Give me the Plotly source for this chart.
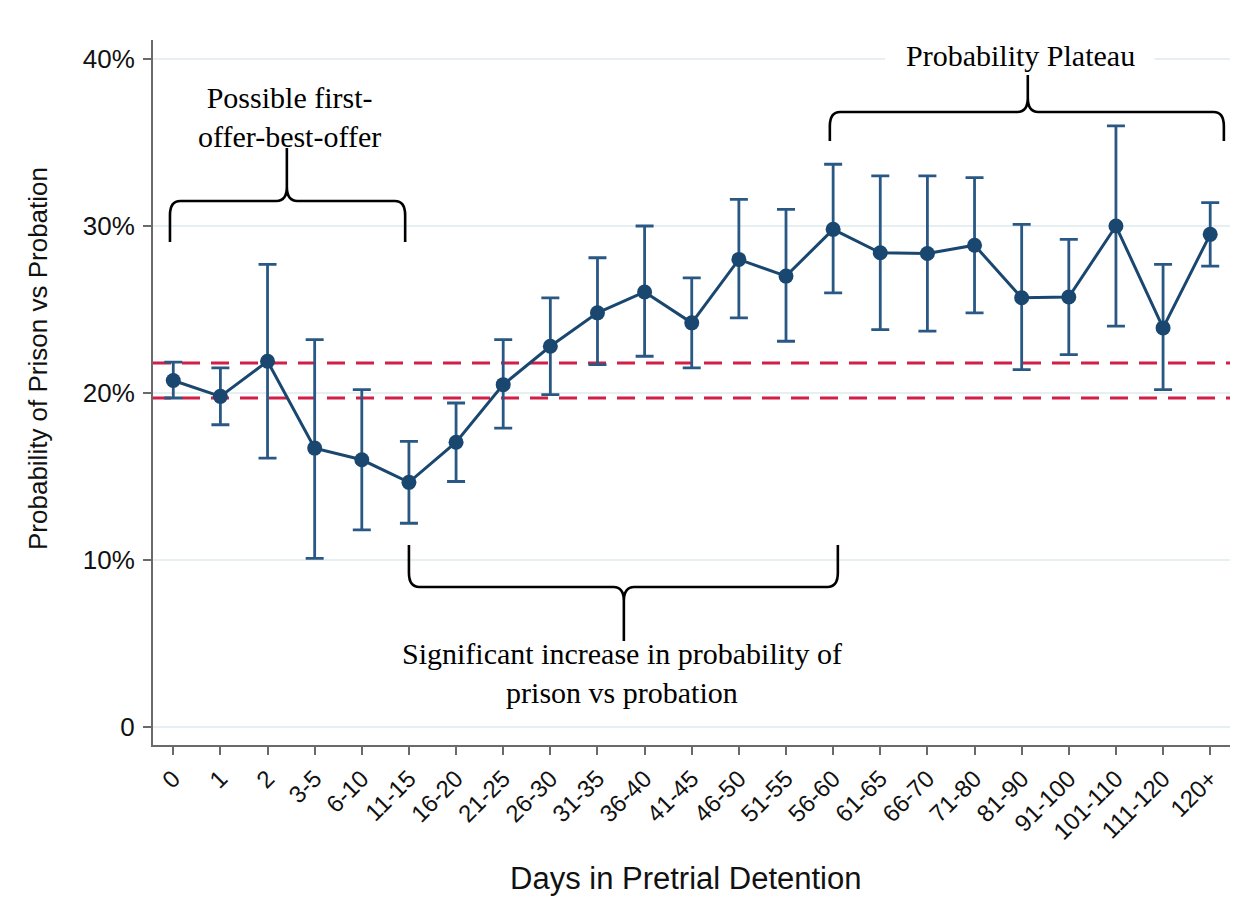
import plotly.graph_objects as go

# ---------------- data ----------------
categories = ["0", "1", "2", "3-5", "6-10", "11-15", "16-20", "21-25", "26-30",
              "31-35", "36-40", "41-45", "46-50", "51-55", "56-60", "61-65",
              "66-70", "71-80", "81-90", "91-100", "101-110", "111-120", "120+"]
prob = [0.2075, 0.198, 0.219, 0.167, 0.160, 0.1465, 0.1705, 0.205, 0.228,
        0.248, 0.2605, 0.242, 0.280, 0.270, 0.298, 0.284, 0.2835, 0.2885,
        0.257, 0.2575, 0.300, 0.239, 0.295]
ci_upper = [0.2185, 0.215, 0.277, 0.232, 0.202, 0.171, 0.194, 0.232, 0.257,
            0.281, 0.300, 0.269, 0.316, 0.310, 0.337, 0.330, 0.330, 0.329,
            0.301, 0.292, 0.360, 0.277, 0.314]
ci_lower = [0.197, 0.181, 0.161, 0.101, 0.118, 0.122, 0.147, 0.179, 0.199,
            0.217, 0.222, 0.215, 0.245, 0.231, 0.260, 0.238, 0.237, 0.248,
            0.214, 0.223, 0.240, 0.202, 0.276]
ref_lines = [0.218, 0.197]
y_tickvals = [0, 0.1, 0.2, 0.3, 0.4]
y_ticktext = ["0", "10%", "20%", "30%", "40%"]

# ---------------- styling ----------------
NAVY = "#1a476f"
CI_COL = "#2a5884"
RED = "#d11f48"
GRID = "#e6eff2"
AXIS = "#6a6a6a"
SANS = "Liberation Sans, Arial, sans-serif"
SERIF = "Liberation Serif, Times New Roman, serif"

x_idx = list(range(len(categories)))
err_plus = [u - p for u, p in zip(ci_upper, prob)]
err_minus = [p - l for p, l in zip(prob, ci_lower)]

fig = go.Figure()
fig.add_trace(go.Scatter(
    x=x_idx, y=prob, mode="lines+markers",
    line=dict(color=NAVY, width=3),
    marker=dict(color=NAVY, size=15),
    error_y=dict(type="data", symmetric=False, array=err_plus,
                 arrayminus=err_minus, color=CI_COL, thickness=2.8, width=9),
    showlegend=False, hoverinfo="skip",
))

shapes = []
for yv in ref_lines:
    shapes.append(dict(type="line", xref="paper", yref="y", x0=0, x1=1,
                       y0=yv, y1=yv, layer="below",
                       line=dict(color=RED, width=3, dash="18px,11px")))


def brace(x0, x1, xm, y_end, y_h, y_tip, rx=0.22, ry=0.0085):
    s = 1 if y_tip > y_h else -1
    p = (f"M {x0},{y_end} L {x0},{y_h - s*ry} Q {x0},{y_h} {x0+rx},{y_h} "
         f"L {xm-rx},{y_h} Q {xm},{y_h} {xm},{y_h + s*ry} L {xm},{y_tip} "
         f"M {xm},{y_tip} L {xm},{y_h + s*ry} Q {xm},{y_h} {xm+rx},{y_h} "
         f"L {x1-rx},{y_h} Q {x1},{y_h} {x1},{y_h - s*ry} L {x1},{y_end}")
    return dict(type="path", xref="x", yref="y", path=p, layer="above",
                line=dict(color="black", width=2.6))


# brace geometry in axis units (category index, probability)
shapes.append(brace(-0.07, 4.92, 2.41, 0.2904, 0.3150, 0.3467))
shapes.append(brace(5.00, 14.10, 9.56, 0.1090, 0.0838, 0.0515))
shapes.append(brace(13.93, 22.29, 18.13, 0.3509, 0.3683, 0.3904))
# white patch behind "Probability Plateau" hiding the 40% gridline
shapes.append(dict(type="rect", xref="x", yref="y", x0=15.1, x1=20.82,
                   y0=0.394, y1=0.406, layer="between",
                   fillcolor="white", line=dict(width=0)))

annotations = [
    dict(text="Possible first-<br>offer-best-offer", x=2.46, y=0.3655,
         xref="x", yref="y", showarrow=False, align="center",
         xanchor="center", yanchor="middle",
         font=dict(family=SERIF, size=30, color="black")),
    dict(text="Significant increase in probability of<br>prison vs probation",
         x=9.53, y=0.0325, xref="x", yref="y", showarrow=False, align="center",
         xanchor="center", yanchor="middle",
         font=dict(family=SERIF, size=30, color="black")),
    dict(text="Probability Plateau", x=17.98, y=0.4024, xref="x", yref="y",
         showarrow=False, xanchor="center", yanchor="middle",
         font=dict(family=SERIF, size=30, color="black")),
    dict(text="Days in Pretrial Detention", x=(686 - 153) / 1077,
         y=(745 - 878) / 705, xref="paper", yref="paper", showarrow=False,
         xanchor="center", yanchor="middle",
         font=dict(family=SANS, size=31, color="#111111")),
    dict(text="Probability of Prison vs Probation", x=(38 - 153) / 1077,
         y=(745 - 359) / 705, xref="paper", yref="paper", showarrow=False,
         xanchor="center", yanchor="middle",
         textangle=-90, font=dict(family=SANS, size=26, color="#111111")),
]

fig.update_layout(
    width=1244, height=911,
    margin=dict(l=153, r=14, t=40, b=166),
    paper_bgcolor="white", plot_bgcolor="white",
    shapes=shapes, annotations=annotations,
    xaxis=dict(range=[-0.43, 22.42], tickmode="array", tickvals=x_idx,
               ticktext=categories, tickangle=-45, showgrid=False,
               zeroline=False, showline=True, linecolor=AXIS, linewidth=2,
               ticks="outside", ticklen=8, tickwidth=1.5, tickcolor=AXIS,
               tickfont=dict(family=SANS, size=24, color="#111111")),
    yaxis=dict(range=[-0.0108, 0.4114], tickmode="array", tickvals=y_tickvals,
               ticktext=y_ticktext, showgrid=True, gridcolor=GRID, gridwidth=2,
               zeroline=False, showline=True, linecolor=AXIS, linewidth=2,
               ticks="outside", ticklen=8, tickwidth=1.5, tickcolor=AXIS,
               ticklabelstandoff=3,
               tickfont=dict(family=SANS, size=26, color="#111111")),
)

fig.write_html("out.html")
